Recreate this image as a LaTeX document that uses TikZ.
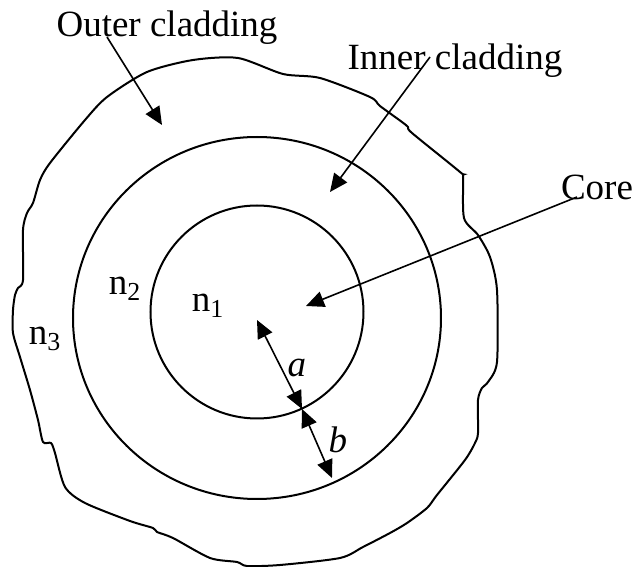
\documentclass[tikz,border=0pt]{standalone}
\usepackage{fontspec}
\setmainfont{Liberation Serif}
\usetikzlibrary{arrows.meta}
\tikzstyle{tag} = [inner sep=0pt, 
anchor=base]
\tikzstyle{ring} = [line width=1pt]
\tikzstyle{arrow} = [line width=0.8pt,
-{Triangle[length=9pt,width=8pt]}]
\tikzstyle{dimarrow} = [line width=0.8pt,
{Triangle[length=9pt,width=8pt]}-{Triangle[length=9pt,width=8pt]}]

\begin{document}
\begin{tikzpicture}[x=0.5pt, y=-0.5pt, font=\fontsize{18.5}{22}\selectfont]

        \useasboundingbox (0,0) rectangle (634,567);

        % core, inner cladding, outer cladding
        \draw [ring] (257,312) circle [radius=106.5];
        \draw [ring] (257,318) ellipse [x radius=184, y radius=181];
        \draw [ring] plot [smooth cycle, tension=0.45] coordinates {
            (50,163) (85,120) (107,97) (147,72) (193,60) (238,58) (283,74)
            (320,78) (370,97) (380,106) (402,122) (408,127) (412,133)
            (460,172) (463,177) (464,218) (478,235) (490,257) (497,290)
            (497,362) (488,382) (482,388) (478,400) (478,433) (475,443)
            (465,460) (437,495) (427,508) (407,523) (390,533) (363,547)
            (340,558) (280,565) (247,566) (237,562) (210,558) (173,538)
            (157,532) (153,528) (130,521) (85,503) (65,487) (55,453)
            (51,443) (43,442) (38,420) (30,390) (20,357) (13,333) (13,310)
            (15,295) (18,288) (23,280) (23,230) (27,213) (33,203) (40,180)};

        \node (outer) [tag] at (167,37) {Outer cladding};
        \node (inner) [tag] at (455,70) {Inner cladding};
        \node (core) [tag] at (597,200) {Core};
        \node (n1) [tag] at (208,312) {n\textsubscript{1}};
        \node (n2) [tag] at (125,295) {n\textsubscript{2}};
        \node (n3) [tag] at (45,345) {n\textsubscript{3}};
        \node (a) [tag] at (297,377) {\textit{a}};
        \node (b) [tag] at (338,453) {\textit{b}};

        \coordinate (outerfrom) at (107,37);
        \coordinate (outerto) at (162,125);
        \coordinate (innerfrom) at (430,57);
        \coordinate (innerto) at (330,192);
        \coordinate (corefrom) at (577,197);
        \coordinate (coreto) at (306,306);
        \coordinate (centre) at (257,320);
        \coordinate (rim1) at (302,409);
        \coordinate (rim2) at (332,478);

        \draw [arrow] (outerfrom) -- (outerto);
        \draw [arrow] (innerfrom) -- (innerto);
        \draw [arrow] (corefrom) -- (coreto);
        \draw [dimarrow] (centre) -- (rim1);
        \draw [dimarrow] (rim1) -- (rim2);

    \end{tikzpicture}
\end{document}
